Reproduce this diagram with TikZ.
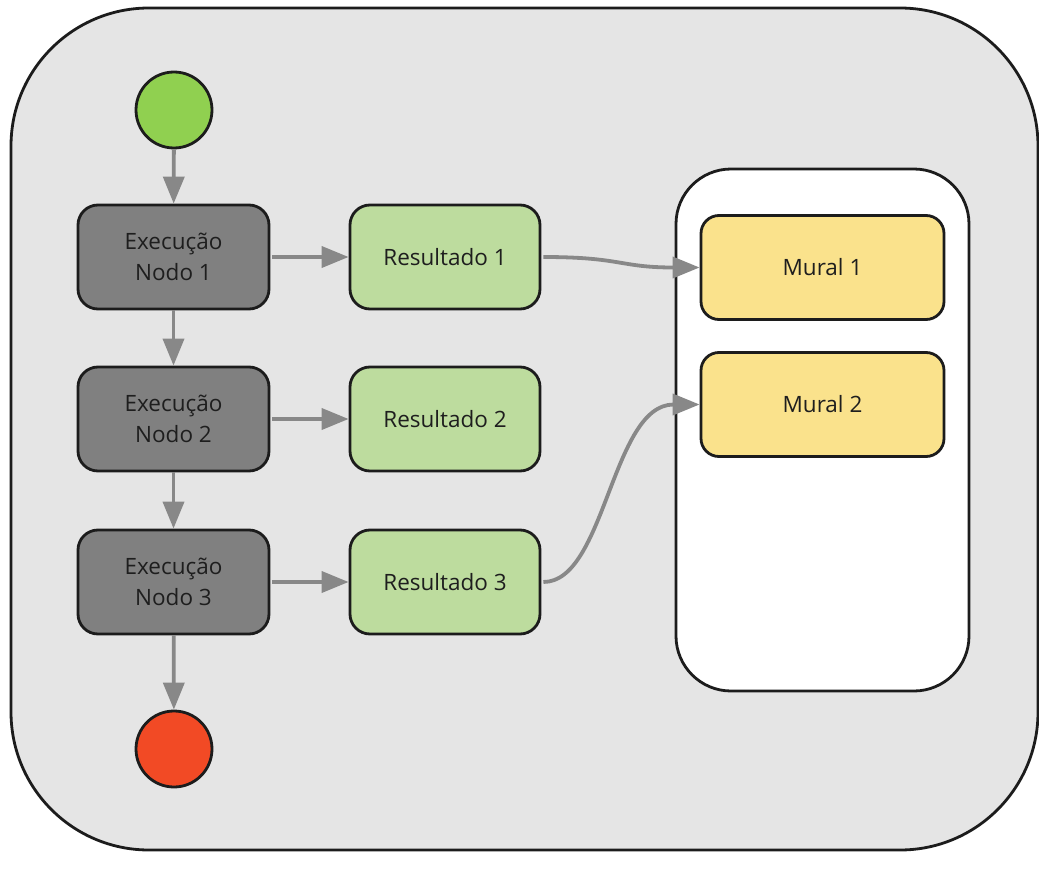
\documentclass[tikz,border=0pt]{standalone}
\usepackage{fontspec}
\setmainfont{Open Sans}
\usetikzlibrary{arrows.meta}
\definecolor{panelbg}{HTML}{E5E5E5}
\definecolor{edgeblack}{HTML}{1C1C1C}
\definecolor{execgray}{HTML}{808080}
\definecolor{resgreen}{HTML}{BDDC9E}
\definecolor{muralyellow}{HTML}{FAE28C}
\definecolor{startgreen}{HTML}{90D050}
\definecolor{endred}{HTML}{F24A25}
\definecolor{flowgray}{HTML}{888888}
\definecolor{labeltext}{HTML}{1E1E1E}
\tikzset{
  box/.style={draw=edgeblack, line width=2.8pt, rounded corners=20pt,
    minimum height=104pt, inner sep=0pt, align=center, text=labeltext,
    font=\fontsize{22.5}{31}\selectfont},
  execbox/.style={box, fill=execgray, minimum width=191pt},
  resbox/.style={box, fill=resgreen, minimum width=190pt},
  muralbox/.style={box, fill=muralyellow, minimum width=243pt, rounded corners=18pt},
  terminal/.style={circle, draw=edgeblack, line width=2.8pt, minimum size=76pt, inner sep=0pt},
  flow/.style={draw=flowgray, line width=3.8pt, -{Triangle[length=27pt,width=21pt]}}
}
\begin{document}
\begin{tikzpicture}[x=1pt,y=-1pt]
\useasboundingbox (0,0) rectangle (1039,875);
% outer panel
\draw[edgeblack, fill=panelbg, line width=2.8pt, rounded corners=138pt] (11,8) rectangle (1038,850);
% board holding the murals
\node[draw=edgeblack, fill=white, line width=2.8pt, rounded corners=55pt,
      minimum width=293pt, minimum height=522pt] (board) at (822.5,430) {};

\node[terminal, fill=startgreen] (start) at (174,110) {};
\node[execbox] (e1) at (173.5,257) {Execução\\Nodo 1};
\node[execbox] (e2) at (173.5,419) {Execução\\Nodo 2};
\node[execbox] (e3) at (173.5,582) {Execução\\Nodo 3};
\node[terminal, fill=endred] (stop) at (174,749) {};

\node[resbox] (r1) at (445,257) {Resultado 1};
\node[resbox] (r2) at (445,419) {Resultado 2};
\node[resbox] (r3) at (445,582) {Resultado 3};

\node[muralbox] (m1) at (822.5,267.5) {Mural 1};
\node[muralbox] (m2) at (822.5,404.5) {Mural 2};

% control flow
\draw[flow] (start) -- (e1);
\draw[flow] (e1) -- (e2);
\draw[flow] (e2) -- (e3);
\draw[flow] (e3) -- (stop);

% results
\draw[flow, shorten <=2pt] (e1.east) -- (r1.west);
\draw[flow, shorten <=2pt] (e2.east) -- (r2.west);
\draw[flow, shorten <=2pt] (e3.east) -- (r3.west);

% publishing to the murals
\draw[flow, shorten <=2pt] (r1.east) .. controls +(80,0) and +(-80,0) .. (m1.west);
\draw[flow, shorten <=2pt] (r3.east) .. controls +(64,0) and +(-88,0) .. (m2.west);
\end{tikzpicture}
\end{document}
